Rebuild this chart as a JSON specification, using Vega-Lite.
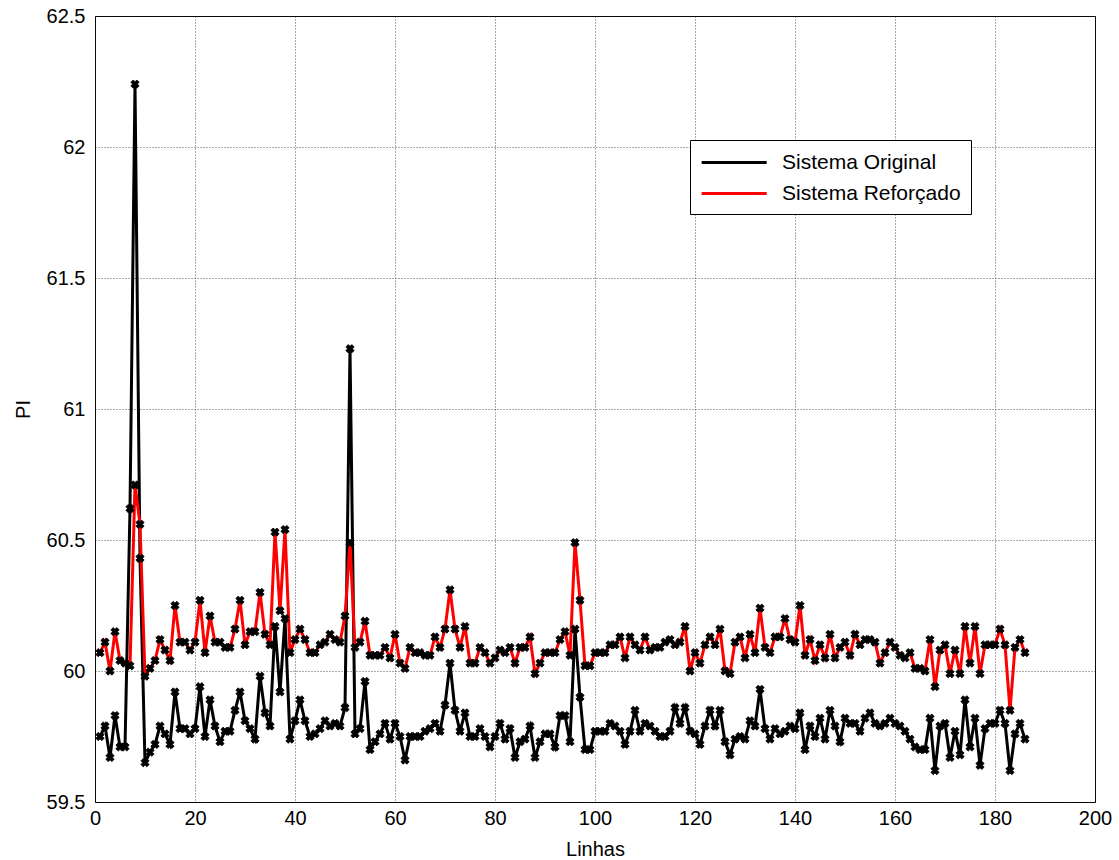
{
 "$schema": "https://vega.github.io/schema/vega-lite/v6.json",
 "width": 1000, "height": 786,
 "autosize": {"type": "none"},
 "padding": {"left": 95, "top": 16, "right": 24, "bottom": 58},
 "background": "white",
 "config": {
  "font": "Liberation Sans",
  "view": {"stroke": "black", "strokeWidth": 1},
  "axis": {"labelFont": "Liberation Sans", "labelFontSize": 20, "labelColor": "black", "titleFont": "Liberation Sans", "titleFontSize": 20, "titleFontWeight": "normal", "titleColor": "black", "gridColor": "#222222", "gridDash": [1, 2], "gridOpacity": 0.75, "domain": false, "ticks": false, "labelFlush": false}
 },
 "data": {"values": [
  {"x":1,"o":59.75,"r":60.07},{"x":2,"o":59.79,"r":60.11},{"x":3,"o":59.67,"r":60.00},{"x":4,"o":59.83,"r":60.15},{"x":5,"o":59.71,"r":60.04},
  {"x":6,"o":59.71,"r":60.03},{"x":7,"o":60.62,"r":60.02},{"x":8,"o":62.24,"r":60.71},{"x":9,"o":60.43,"r":60.56},{"x":10,"o":59.65,"r":59.98},
  {"x":11,"o":59.69,"r":60.01},{"x":12,"o":59.72,"r":60.04},{"x":13,"o":59.79,"r":60.12},{"x":14,"o":59.76,"r":60.08},{"x":15,"o":59.72,"r":60.04},
  {"x":16,"o":59.92,"r":60.25},{"x":17,"o":59.78,"r":60.11},{"x":18,"o":59.78,"r":60.11},{"x":19,"o":59.76,"r":60.08},{"x":20,"o":59.78,"r":60.11},
  {"x":21,"o":59.94,"r":60.27},{"x":22,"o":59.75,"r":60.07},{"x":23,"o":59.89,"r":60.21},{"x":24,"o":59.79,"r":60.11},{"x":25,"o":59.73,"r":60.11},
  {"x":26,"o":59.77,"r":60.09},{"x":27,"o":59.77,"r":60.09},{"x":28,"o":59.85,"r":60.16},{"x":29,"o":59.92,"r":60.27},{"x":30,"o":59.81,"r":60.10},
  {"x":31,"o":59.78,"r":60.15},{"x":32,"o":59.74,"r":60.15},{"x":33,"o":59.98,"r":60.30},{"x":34,"o":59.84,"r":60.14},{"x":35,"o":59.79,"r":60.10},
  {"x":36,"o":60.17,"r":60.53},{"x":37,"o":59.92,"r":60.23},{"x":38,"o":60.20,"r":60.54},{"x":39,"o":59.74,"r":60.07},{"x":40,"o":59.81,"r":60.12},
  {"x":41,"o":59.89,"r":60.16},{"x":42,"o":59.81,"r":60.12},{"x":43,"o":59.75,"r":60.07},{"x":44,"o":59.76,"r":60.07},{"x":45,"o":59.78,"r":60.10},
  {"x":46,"o":59.81,"r":60.11},{"x":47,"o":59.79,"r":60.14},{"x":48,"o":59.80,"r":60.12},{"x":49,"o":59.79,"r":60.11},{"x":50,"o":59.86,"r":60.21},
  {"x":51,"o":61.23,"r":60.49},{"x":52,"o":59.76,"r":60.09},{"x":53,"o":59.78,"r":60.11},{"x":54,"o":59.96,"r":60.19},{"x":55,"o":59.70,"r":60.06},
  {"x":56,"o":59.73,"r":60.06},{"x":57,"o":59.76,"r":60.06},{"x":58,"o":59.80,"r":60.09},{"x":59,"o":59.74,"r":60.05},{"x":60,"o":59.80,"r":60.14},
  {"x":61,"o":59.75,"r":60.03},{"x":62,"o":59.66,"r":60.01},{"x":63,"o":59.75,"r":60.09},{"x":64,"o":59.75,"r":60.07},{"x":65,"o":59.75,"r":60.07},
  {"x":66,"o":59.77,"r":60.06},{"x":67,"o":59.78,"r":60.06},{"x":68,"o":59.80,"r":60.13},{"x":69,"o":59.77,"r":60.09},{"x":70,"o":59.87,"r":60.16},
  {"x":71,"o":60.03,"r":60.31},{"x":72,"o":59.85,"r":60.16},{"x":73,"o":59.77,"r":60.09},{"x":74,"o":59.84,"r":60.17},{"x":75,"o":59.75,"r":60.03},
  {"x":76,"o":59.75,"r":60.03},{"x":77,"o":59.78,"r":60.09},{"x":78,"o":59.75,"r":60.07},{"x":79,"o":59.71,"r":60.03},{"x":80,"o":59.75,"r":60.05},
  {"x":81,"o":59.80,"r":60.08},{"x":82,"o":59.74,"r":60.07},{"x":83,"o":59.78,"r":60.09},{"x":84,"o":59.67,"r":60.03},{"x":85,"o":59.73,"r":60.09},
  {"x":86,"o":59.74,"r":60.09},{"x":87,"o":59.79,"r":60.13},{"x":88,"o":59.67,"r":59.99},{"x":89,"o":59.73,"r":60.03},{"x":90,"o":59.76,"r":60.07},
  {"x":91,"o":59.76,"r":60.07},{"x":92,"o":59.71,"r":60.07},{"x":93,"o":59.83,"r":60.12},{"x":94,"o":59.83,"r":60.15},{"x":95,"o":59.73,"r":60.06},
  {"x":96,"o":60.16,"r":60.49},{"x":97,"o":59.90,"r":60.27},{"x":98,"o":59.70,"r":60.02},{"x":99,"o":59.70,"r":60.02},{"x":100,"o":59.77,"r":60.07},
  {"x":101,"o":59.77,"r":60.07},{"x":102,"o":59.77,"r":60.07},{"x":103,"o":59.80,"r":60.10},{"x":104,"o":59.79,"r":60.10},{"x":105,"o":59.77,"r":60.13},
  {"x":106,"o":59.72,"r":60.05},{"x":107,"o":59.77,"r":60.13},{"x":108,"o":59.85,"r":60.10},{"x":109,"o":59.77,"r":60.08},{"x":110,"o":59.80,"r":60.13},
  {"x":111,"o":59.79,"r":60.08},{"x":112,"o":59.77,"r":60.09},{"x":113,"o":59.75,"r":60.09},{"x":114,"o":59.75,"r":60.11},{"x":115,"o":59.77,"r":60.12},
  {"x":116,"o":59.86,"r":60.10},{"x":117,"o":59.80,"r":60.11},{"x":118,"o":59.86,"r":60.17},{"x":119,"o":59.77,"r":60.00},{"x":120,"o":59.76,"r":60.07},
  {"x":121,"o":59.72,"r":60.03},{"x":122,"o":59.79,"r":60.10},{"x":123,"o":59.85,"r":60.13},{"x":124,"o":59.79,"r":60.10},{"x":125,"o":59.85,"r":60.16},
  {"x":126,"o":59.73,"r":60.00},{"x":127,"o":59.68,"r":59.99},{"x":128,"o":59.74,"r":60.11},{"x":129,"o":59.75,"r":60.13},{"x":130,"o":59.74,"r":60.05},
  {"x":131,"o":59.81,"r":60.14},{"x":132,"o":59.79,"r":60.07},{"x":133,"o":59.93,"r":60.24},{"x":134,"o":59.78,"r":60.09},{"x":135,"o":59.74,"r":60.07},
  {"x":136,"o":59.78,"r":60.13},{"x":137,"o":59.76,"r":60.13},{"x":138,"o":59.77,"r":60.20},{"x":139,"o":59.79,"r":60.12},{"x":140,"o":59.78,"r":60.11},
  {"x":141,"o":59.84,"r":60.25},{"x":142,"o":59.70,"r":60.06},{"x":143,"o":59.79,"r":60.12},{"x":144,"o":59.75,"r":60.04},{"x":145,"o":59.82,"r":60.10},
  {"x":146,"o":59.74,"r":60.05},{"x":147,"o":59.85,"r":60.14},{"x":148,"o":59.79,"r":60.05},{"x":149,"o":59.73,"r":60.09},{"x":150,"o":59.82,"r":60.11},
  {"x":151,"o":59.80,"r":60.06},{"x":152,"o":59.80,"r":60.14},{"x":153,"o":59.77,"r":60.10},{"x":154,"o":59.82,"r":60.12},{"x":155,"o":59.84,"r":60.12},
  {"x":156,"o":59.80,"r":60.11},{"x":157,"o":59.79,"r":60.03},{"x":158,"o":59.80,"r":60.07},{"x":159,"o":59.82,"r":60.11},{"x":160,"o":59.80,"r":60.09},
  {"x":161,"o":59.79,"r":60.06},{"x":162,"o":59.77,"r":60.05},{"x":163,"o":59.74,"r":60.07},{"x":164,"o":59.71,"r":60.01},{"x":165,"o":59.70,"r":60.01},
  {"x":166,"o":59.70,"r":60.00},{"x":167,"o":59.82,"r":60.12},{"x":168,"o":59.62,"r":59.94},{"x":169,"o":59.79,"r":60.08},{"x":170,"o":59.80,"r":60.10},
  {"x":171,"o":59.67,"r":59.99},{"x":172,"o":59.77,"r":60.08},{"x":173,"o":59.68,"r":59.99},{"x":174,"o":59.89,"r":60.17},{"x":175,"o":59.71,"r":60.03},
  {"x":176,"o":59.82,"r":60.17},{"x":177,"o":59.64,"r":59.99},{"x":178,"o":59.78,"r":60.10},{"x":179,"o":59.80,"r":60.10},{"x":180,"o":59.80,"r":60.10},
  {"x":181,"o":59.85,"r":60.16},{"x":182,"o":59.80,"r":60.10},{"x":183,"o":59.62,"r":59.85},{"x":184,"o":59.76,"r":60.09},{"x":185,"o":59.80,"r":60.12},
  {"x":186,"o":59.74,"r":60.07}
 ]},
 "transform": [{"fold": ["o", "r"], "as": ["s", "v"]}],
 "encoding": {
  "x": {"field": "x", "type": "quantitative", "scale": {"domain": [0, 200], "nice": false, "zero": false},
        "axis": {"values": [0,20,40,60,80,100,120,140,160,180,200], "title": "Linhas", "labelPadding": 6, "titlePadding": 11}},
  "y": {"field": "v", "type": "quantitative", "scale": {"domain": [59.5, 62.5], "nice": false, "zero": false},
        "axis": {"values": [59.5,60,60.5,61,61.5,62,62.5], "format": "~g", "title": "PI", "labelPadding": 10, "titlePadding": 13}}
 },
 "layer": [
  {"mark": {"type": "line", "strokeWidth": 3},
   "encoding": {"color": {"field": "s", "type": "nominal",
     "scale": {"domain": ["o", "r"], "range": ["#000000", "#ff0000"]},
     "legend": {"orient": "none", "legendX": 595, "legendY": 124, "title": null, "symbolType": "M-1,0L5,0", "symbolStrokeWidth": 3, "symbolSize": 470,
       "labelFontSize": 21, "labelFont": "Liberation Sans", "labelColor": "black", "strokeColor": "black", "fillColor": "white", "padding": 10, "rowPadding": 8, "labelOffset": 57, "labelLimit": 400,
       "labelExpr": "datum.label == 'o' ? 'Sistema Original' : 'Sistema Reforçado'"}}}},
  {"mark": {"type": "point", "shape": "cross", "angle": 45, "filled": true, "color": "black", "stroke": "black", "strokeWidth": 0.8, "size": 70, "opacity": 1},
   "encoding": {"detail": {"field": "s", "type": "nominal"}}}
 ]
}
